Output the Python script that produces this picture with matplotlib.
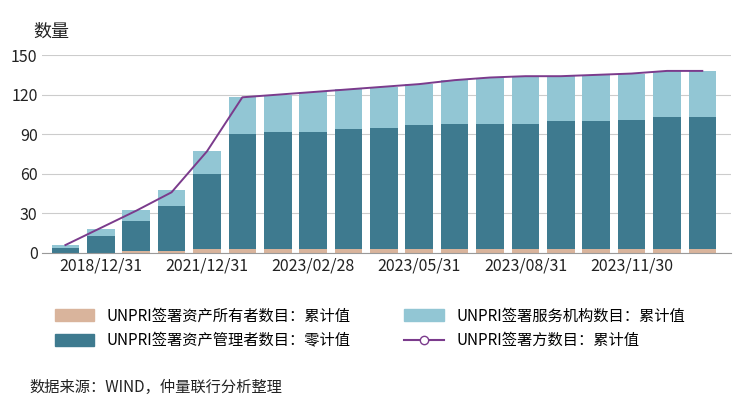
import matplotlib
matplotlib.use("Agg")
import matplotlib.pyplot as plt
from matplotlib.lines import Line2D
from matplotlib.patches import Patch
import numpy as np

plt.rcParams["font.family"] = ["Noto Sans CJK SC"]

tick_labels = ["2018/12/31", "2021/12/31", "2023/02/28", "2023/05/31", "2023/08/31", "2023/11/30"]
tick_idx = [1, 4, 7, 10, 13, 16]
owners = [0, 0, 1.5, 1.5, 3, 3, 3, 3, 3, 3, 3, 3, 3, 3, 3, 3, 3, 3, 3]
managers = [4, 13, 23, 34, 57, 87, 89, 89, 91, 92, 94, 95, 95, 95, 97, 97, 98, 100, 100]
services = [2, 5, 8, 12, 17, 28, 28, 30, 30, 31, 31, 33, 35, 36, 34, 35, 35, 35, 35]
totals = [6, 19, 32, 46, 77, 118, 120, 122, 124, 126, 128, 131, 133, 134, 134, 135, 136, 138, 138]

c_owner = "#d9b49c"
c_mgr = "#3e7a8f"
c_svc = "#92c6d4"
c_line = "#7b3b8c"

fig = plt.figure(figsize=(7.44, 4.08), dpi=100)
ax = fig.add_axes([0.057, 0.38, 0.925, 0.485])
x = np.arange(len(totals))
ow = np.array(owners); mg = np.array(managers); sv = np.array(services)
ax.bar(x, ow, 0.78, color=c_owner)
ax.bar(x, mg, 0.78, bottom=ow, color=c_mgr)
ax.bar(x, sv, 0.78, bottom=ow + mg, color=c_svc)
ax.plot(x, totals, color=c_line, lw=1.4)
ax.set_ylim(0, 150)
ax.set_yticks([0, 30, 60, 90, 120, 150])
ax.set_xlim(-0.65, len(totals) - 0.2)
ax.set_xticks(tick_idx)
ax.set_xticklabels(tick_labels)
ax.grid(axis="y", color="#cccccc", lw=0.8)
ax.set_axisbelow(True)
for s in ["top", "right", "left"]:
    ax.spines[s].set_visible(False)
ax.spines["bottom"].set_color("#999999")
ax.tick_params(length=0, labelsize=11.5, colors="#222222")
fig.text(0.045, 0.91, "数量", fontsize=13, color="#222222")

handles = [Patch(color=c_owner), Patch(color=c_mgr), Patch(color=c_svc),
           Line2D([0], [0], color=c_line, marker="o", markerfacecolor="white", markersize=6)]
labels = ["UNPRI签署资产所有者数目：累计值", "UNPRI签署资产管理者数目：零计值",
          "UNPRI签署服务机构数目：累计值", "UNPRI签署方数目：累计值"]
fig.legend(handles, labels, loc="upper left", bbox_to_anchor=(0.055, 0.28), ncol=2,
           frameon=False, fontsize=11, columnspacing=3.5, handlelength=2.6, handleheight=0.8)
fig.text(0.04, 0.04, "数据来源：WIND，仲量联行分析整理", fontsize=11, style="italic", color="#222222")
fig.savefig("out.png", dpi=100)
